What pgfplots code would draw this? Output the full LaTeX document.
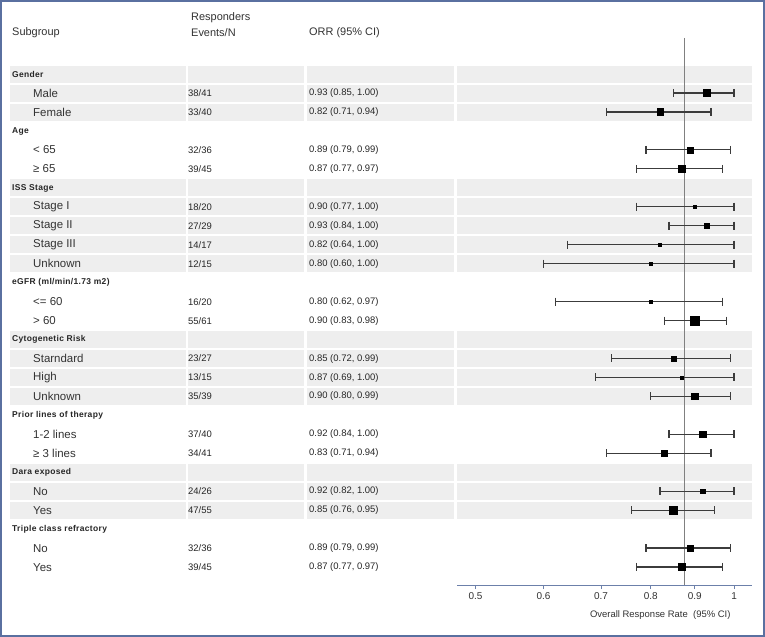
\documentclass[border=0pt]{standalone}
\usepackage{fontspec}
\setmainfont{Liberation Sans}
\usepackage{pgfplots}
\usepackage{pgfplotstable}
\pgfplotsset{compat=1.18}

\definecolor{band}{HTML}{EEEEEE}
\definecolor{frame}{HTML}{5A70A0}
\definecolor{axisblue}{HTML}{6C80AA}
\definecolor{ci}{HTML}{3C3C3C}
\definecolor{refl}{HTML}{808080}
\definecolor{txt}{HTML}{333333}
\definecolor{num}{HTML}{262626}

% row position (negative row number), ORR, CI, half-size of the square
\pgfplotstableread{
y   est  lo   hi   ms
-2  0.93 0.85 1.00 3.3
-3  0.82 0.71 0.94 3.3
-5  0.89 0.79 0.99 3.0
-6  0.87 0.77 0.97 3.6
-8  0.90 0.77 1.00 1.5
-9  0.93 0.84 1.00 2.3
-10 0.82 0.64 1.00 1.5
-11 0.80 0.60 1.00 1.4
-13 0.80 0.62 0.97 1.4
-14 0.90 0.83 0.98 4.7
-16 0.85 0.72 0.99 2.5
-17 0.87 0.69 1.00 1.4
-18 0.90 0.80 0.99 3.2
-20 0.92 0.84 1.00 3.3
-21 0.83 0.71 0.94 3.2
-23 0.92 0.82 1.00 2.3
-24 0.85 0.76 0.95 4.0
-26 0.89 0.79 0.99 3.0
-27 0.87 0.77 0.97 3.6
}\orrtable

\newcommand{\rowy}[1]{74.2+(#1-1)*18.96}

\begin{document}
\begin{tikzpicture}
\begin{scope}[x=1bp,y=1bp]
\useasboundingbox (0,0) rectangle (765,-637);
\fill[white] (0,0) rectangle (765,-637);
\draw[frame, line width=1.5bp] (1,-1) rectangle (764,-636);

% shaded groups
\foreach \i in {1,2,3,7,8,9,10,11,15,16,17,18,22,23,24} {
  \pgfmathsetmacro\c{\rowy{\i}}
  \fill[band] (10,{-\c+8.5}) rectangle (186,{-\c-8.5});
  \fill[band] (188,{-\c+8.5}) rectangle (304,{-\c-8.5});
  \fill[band] (307,{-\c+8.5}) rectangle (454,{-\c-8.5});
  \fill[band] (457,{-\c+8.5}) rectangle (752,{-\c-8.5});
}

% column headings
\begin{scope}[every node/.style={anchor=west, inner sep=0pt, text=txt, font=\fontsize{11}{13}\selectfont}]
\node at (12,-33) {Subgroup};
\node at (191,-18) {Responders};
\node at (191,-33) {Events/N};
\node at (309,-33) {ORR (95\% CI)};
\end{scope}

% group headings
\foreach \i/\lab in {1/Gender, 4/Age, 7/ISS Stage, 12/{eGFR (ml/min/1.73 m2)},
  15/Cytogenetic Risk, 19/Prior lines of therapy, 22/Dara exposed,
  25/Triple class refractory} {
  \pgfmathsetmacro\c{\rowy{\i}}
  \node[anchor=west, inner sep=0pt, text=black!85,
    font=\fontsize{8.5}{10}\selectfont\bfseries\addfontfeatures{LetterSpace=4}]
    at (12,-\c) {\lab};
}

% subgroup rows
\foreach \i/\lab/\ev/\orr in {
  2/Male/{38/41}/{0.93 (0.85, 1.00)},
  3/Female/{33/40}/{0.82 (0.71, 0.94)},
  5/{< 65}/{32/36}/{0.89 (0.79, 0.99)},
  6/{≥ 65}/{39/45}/{0.87 (0.77, 0.97)},
  8/Stage I/{18/20}/{0.90 (0.77, 1.00)},
  9/Stage II/{27/29}/{0.93 (0.84, 1.00)},
  10/Stage III/{14/17}/{0.82 (0.64, 1.00)},
  11/Unknown/{12/15}/{0.80 (0.60, 1.00)},
  13/{<= 60}/{16/20}/{0.80 (0.62, 0.97)},
  14/{> 60}/{55/61}/{0.90 (0.83, 0.98)},
  16/Starndard/{23/27}/{0.85 (0.72, 0.99)},
  17/High/{13/15}/{0.87 (0.69, 1.00)},
  18/Unknown/{35/39}/{0.90 (0.80, 0.99)},
  20/{1-2 lines}/{37/40}/{0.92 (0.84, 1.00)},
  21/{≥ 3 lines}/{34/41}/{0.83 (0.71, 0.94)},
  23/No/{24/26}/{0.92 (0.82, 1.00)},
  24/Yes/{47/55}/{0.85 (0.76, 0.95)},
  26/No/{32/36}/{0.89 (0.79, 0.99)},
  27/Yes/{39/45}/{0.87 (0.77, 0.97)}} {
  \pgfmathsetmacro\c{\rowy{\i}}
  \node[anchor=west, inner sep=0pt, text=txt, font=\fontsize{11.5}{13}\selectfont] at (33,-\c) {\lab};
  \node[anchor=west, inner sep=0pt, text=num, font=\fontsize{9.5}{11}\selectfont] at (188,-\c) {\ev};
  \node[anchor=west, inner sep=0pt, text=num, font=\fontsize{9.5}{11}\selectfont] at (309,-\c) {\orr};
}
\end{scope}

\begin{axis}[
  at={(457bp,-585bp)}, anchor=south west,
  scale only axis, width=295bp, height=547bp,
  xmode=log, xmin=0.4759, xmax=1.0494,
  ymin=-27.95, ymax=0.9,
  axis x line*=bottom, axis y line=none,
  axis line style={-, draw=axisblue, line width=1bp},
  xtick={0.5,0.6,0.7,0.8,0.9,1},
  xticklabels={0.5,0.6,0.7,0.8,0.9,1},
  minor xtick={},
  tick align=outside, major tick length=4bp,
  xtick style={draw=axisblue, line width=0.8bp},
  xticklabel style={font=\fontsize{10}{12}\selectfont, text=txt},
  xlabel={Overall Response Rate\ \ (95\% CI)},
  xlabel style={at={(axis description cs:0.939,-0.055)}, anchor=east,
    font=\fontsize{9.5}{11}\selectfont, text=txt},
  clip=false,
]
\addplot[refl, line width=0.9bp] coordinates {(0.8765,0.9) (0.8765,-27.95)};

\addplot[ci, line width=1.2bp, mark=|, mark size=4bp,
  mark options={line width=1.2bp}, unbounded coords=jump] coordinates {
  (0.85,-2) (1.00,-2) (nan,nan)
  (0.71,-3) (0.94,-3) (nan,nan)
  (0.79,-5) (0.99,-5) (nan,nan)
  (0.77,-6) (0.97,-6) (nan,nan)
  (0.77,-8) (1.00,-8) (nan,nan)
  (0.84,-9) (1.00,-9) (nan,nan)
  (0.64,-10) (1.00,-10) (nan,nan)
  (0.60,-11) (1.00,-11) (nan,nan)
  (0.62,-13) (0.97,-13) (nan,nan)
  (0.83,-14) (0.98,-14) (nan,nan)
  (0.72,-16) (0.99,-16) (nan,nan)
  (0.69,-17) (1.00,-17) (nan,nan)
  (0.80,-18) (0.99,-18) (nan,nan)
  (0.84,-20) (1.00,-20) (nan,nan)
  (0.71,-21) (0.94,-21) (nan,nan)
  (0.82,-23) (1.00,-23) (nan,nan)
  (0.76,-24) (0.95,-24) (nan,nan)
  (0.79,-26) (0.99,-26) (nan,nan)
  (0.77,-27) (0.97,-27)
};

\addplot[scatter, only marks, mark=square*,
  scatter/use mapped color={draw=black, fill=black},
  visualization depends on={\thisrow{ms} \as \msz},
  scatter/@pre marker code/.append style={/tikz/mark size=\msz}]
  table[x=est, y=y] {\orrtable};
\end{axis}
\end{tikzpicture}
\end{document}
